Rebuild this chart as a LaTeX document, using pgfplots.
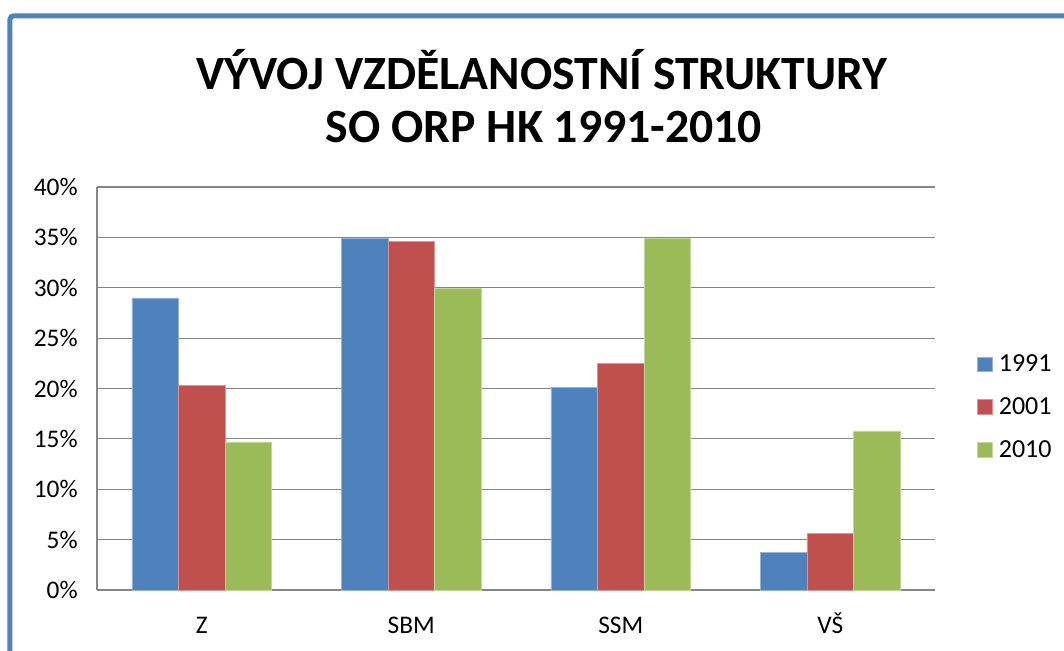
\documentclass[border=0pt]{standalone}
\usepackage{pgfplots}
\pgfplotsset{compat=1.18}
\usepackage{fontspec}
\setmainfont{Carlito}
\definecolor{b1}{HTML}{4F81BD}
\definecolor{r1}{HTML}{C0504D}
\definecolor{g1}{HTML}{9BBB59}
\definecolor{gridc}{HTML}{868686}
\begin{document}
\begin{tikzpicture}
\useasboundingbox (0,0) rectangle (798pt,487.5pt);
\draw[b1, line width=3.75pt, rounded corners=3pt] (7.35pt,-5pt) -- (7.35pt,475.65pt) -- (805pt,475.65pt);
\node[font=\fontsize{35.8pt}{40pt}\selectfont\bfseries, anchor=base] at (406.5pt,420.5pt) {VÝVOJ VZDĚLANOSTNÍ STRUKTURY};
\node[font=\fontsize{35.8pt}{40pt}\selectfont\bfseries, anchor=base] at (408pt,380.5pt) {SO ORP HK 1991-2010};
\begin{axis}[
  at={(72.75pt,45pt)}, anchor=south west,
  scale only axis, width=628.5pt, height=302.25pt,
  ybar=0pt, bar width=34.9pt,
  xmin=-0.5, xmax=3.5, ymin=0, ymax=40,
  xtick=data, xticklabels={Z,SBM,SSM,VŠ},
  ytick={0,5,...,40},
  yticklabel={\pgfmathprintnumber{\tick}\%},
  /pgf/number format/assume math mode=true,
  tick label style={font=\fontsize{19pt}{22pt}\selectfont},
  yticklabel style={xshift=-11pt},
  xticklabel style={text height=14pt, text depth=0pt, yshift=-15pt},
  major tick length=0pt,
  ymajorgrids, grid style={gridc, line width=0.9pt},
  axis line style={gridc, line width=0.9pt},
  axis x line*=bottom, axis y line*=left,
  legend style={at={(1.045,0.454)}, anchor=west, draw=none, fill=none,
    font=\fontsize{19.5pt}{22pt}\selectfont, row sep=14pt, nodes={inner xsep=5pt}},
  legend cell align=left,
  legend image code/.code={\fill[#1] (0pt,-5.5pt) rectangle (11pt,5.5pt);},
]
\addplot[fill=b1, draw=b1!60!white, line width=0.4pt] coordinates {(0,29.0) (1,34.95) (2,20.1) (3,3.7)};
\addplot[fill=r1, draw=r1!60!white, line width=0.4pt] coordinates {(0,20.3) (1,34.6) (2,22.5) (3,5.6)};
\addplot[fill=g1, draw=g1!60!white, line width=0.4pt] coordinates {(0,14.7) (1,29.9) (2,34.95) (3,15.8)};
\legend{1991,2001,2010}
\end{axis}
\end{tikzpicture}
\end{document}
